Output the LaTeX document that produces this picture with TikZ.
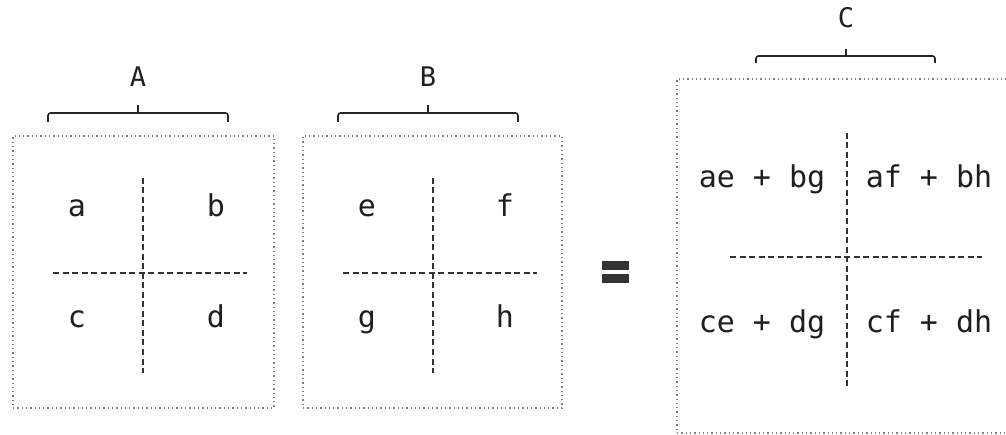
\documentclass[tikz,border=0pt]{standalone}
\usepackage{fontspec}
\setmainfont{DejaVu Sans Mono}
\begin{document}
\begin{tikzpicture}[x=1pt,y=-1pt,
  dotbox/.style={draw=black!50, line width=1.3pt, dash pattern=on 1.3pt off 3pt, inner sep=0pt},
  divider/.style={draw=black!80, line width=1.4pt, dash pattern=on 6pt off 3.5pt},
  bracket/.style={draw=black!85, line width=1.6pt, rounded corners=2.5pt},
  cell/.style={font=\fontsize{30}{30}\selectfont, text=black!88, inner sep=0pt, anchor=base},
  lbl/.style={font=\fontsize{27}{27}\selectfont, text=black!88, inner sep=0pt, anchor=base},
  eqbar/.style={fill=black!80, draw=none, inner sep=0pt, minimum width=27pt, minimum height=9pt}]
\useasboundingbox (0,0) rectangle (1006,435);

% ---- Matrix A ----
\node[dotbox, minimum width=261pt, minimum height=272pt] (boxA) at (143.5,272) {};
\draw[bracket] (48,122) -- (48,113) -- (228,113) -- (228,122);
\draw[bracket] (138,113) -- (138,105);
\node[lbl] (labA) at (138,87) {A};
\coordinate (Ah1) at (53,273); \coordinate (Ah2) at (247,273);
\coordinate (Av1) at (143,178); \coordinate (Av2) at (143,373);
\draw[divider] (Ah1) -- (Ah2);
\draw[divider] (Av1) -- (Av2);
\node[cell] (a) at (77,217) {a};
\node[cell] (b) at (216,217) {b};
\node[cell] (c) at (77,328) {c};
\node[cell] (d) at (216,328) {d};

% ---- Matrix B ----
\node[dotbox, minimum width=259pt, minimum height=272pt] (boxB) at (432.5,272) {};
\draw[bracket] (338,122) -- (338,113) -- (518,113) -- (518,122);
\draw[bracket] (428,113) -- (428,105);
\node[lbl] (labB) at (428,87) {B};
\coordinate (Bh1) at (343,273); \coordinate (Bh2) at (537,273);
\coordinate (Bv1) at (433,178); \coordinate (Bv2) at (433,373);
\draw[divider] (Bh1) -- (Bh2);
\draw[divider] (Bv1) -- (Bv2);
\node[cell] (e) at (367,217) {e};
\node[cell] (f) at (505,217) {f};
\node[cell] (g) at (367,328) {g};
\node[cell] (h) at (505,328) {h};

% ---- equals ----
\node[eqbar] (eq1) at (615.5,265.5) {};
\node[eqbar] (eq2) at (615.5,278.5) {};

% ---- Matrix C ----
\node[dotbox, minimum width=334pt, minimum height=354pt] (boxC) at (844,256) {};
\draw[bracket] (756,63) -- (756,56) -- (935,56) -- (935,63);
\draw[bracket] (846,56) -- (846,49);
\node[lbl] (labC) at (846,28) {C};
\coordinate (Ch1) at (730,257); \coordinate (Ch2) at (982,257);
\coordinate (Cv1) at (847,133); \coordinate (Cv2) at (847,388);
\draw[divider] (Ch1) -- (Ch2);
\draw[divider] (Cv1) -- (Cv2);
\node[cell] (c11) at (762,188) {ae + bg};
\node[cell] (c12) at (929,188) {af + bh};
\node[cell] (c21) at (762,333) {ce + dg};
\node[cell] (c22) at (929,333) {cf + dh};
\end{tikzpicture}
\end{document}
